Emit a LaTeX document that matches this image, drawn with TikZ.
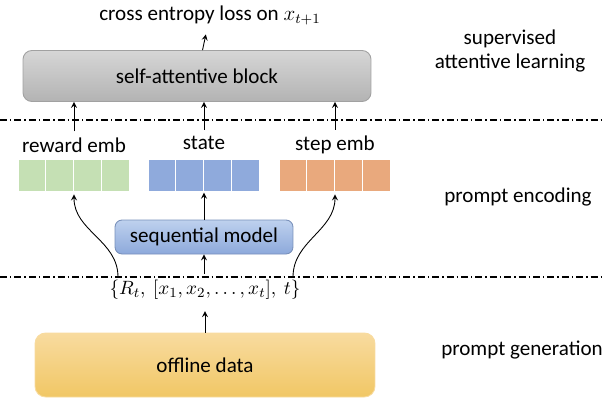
\documentclass[tikz,border=0pt]{standalone}
\usepackage{fontspec}
\setmainfont{Carlito}
\usetikzlibrary{positioning}
\definecolor{blockgrayA}{HTML}{D6D6D6}
\definecolor{blockgrayB}{HTML}{B3B3B3}
\definecolor{seqblueA}{HTML}{BED1EE}
\definecolor{seqblueB}{HTML}{8DA9DB}
\definecolor{offlineA}{HTML}{F8DB9F}
\definecolor{offlineB}{HTML}{F1C765}
\definecolor{embgreen}{HTML}{C5E0B4}
\definecolor{embblue}{HTML}{8FAADC}
\definecolor{emborange}{HTML}{E9A97D}
\begin{document}
\begin{tikzpicture}[x=0.02cm, y=-0.02cm, ->, >=stealth, line width=0.5pt,
  every node/.style={font=\fontsize{12}{14}\selectfont},
  block/.style={rounded corners=5pt, line width=0.5pt, inner sep=0pt},
  embrow/.style={minimum width=2.24cm, minimum height=0.66cm, inner sep=0pt, draw=white, line width=0.8pt},
  phase/.style={align=center, inner sep=1pt},
  sepline/.style={-, line width=0.6pt, dash pattern=on 4pt off 1.7pt on 0.8pt off 1.7pt}]
\useasboundingbox (0,0) rectangle (605,400);
% Nodos
\node (loss) at (210,15) {cross entropy loss on $x_{t+1}$};
\node [block, draw=blockgrayB!90!black, top color=blockgrayA, bottom color=blockgrayB, minimum width=6.96cm, minimum height=1.02cm] (attn) at (197,76) {self-attentive block};

\node (rewlab) at (74,145) {reward emb};
\node (statelab) at (204,143) {state};
\node (steplab) at (335,145) {step emb};

\node [embrow, fill=embgreen] (rew) at (74,175.5) {};
\node [embrow, fill=embblue] (state) at (204,175.5) {};
\node [embrow, fill=emborange] (step) at (335,175.5) {};

\node [block, rounded corners=4pt, draw=seqblueB!85!black, top color=seqblueA, bottom color=seqblueB, minimum width=3.56cm, minimum height=0.68cm] (seq) at (204,237) {sequential model};

\node [font=\fontsize{11}{13}\selectfont] (input) at (205,290) {$\{R_t,\ [x_1, x_2, \dots, x_t],\ t\}$};
\coordinate (rstart) at (118,277);
\coordinate (tstart) at (293,277);

\node [block, rounded corners=6pt, draw=offlineA, top color=offlineA, bottom color=offlineB, minimum width=6.8cm, minimum height=1.28cm] (offline) at (205,365) {offline data};

\node [phase] (phase1) at (510,51) {supervised\\attentive learning};
\node [phase] (phase2) at (518,197) {prompt encoding};
\node [phase] (phase3) at (522,350) {prompt generation};

% separadores de celdas
\foreach \cellrow in {rew,state,step}
  \foreach \i in {1,2,3}
    \draw [-, white, line width=0.8pt] ([xshift=\i*0.56cm]\cellrow.north west) -- ([xshift=\i*0.56cm]\cellrow.south west);

% lineas de fases
\draw [sepline] (0,120) -- (605,120);
\draw [sepline] (0,277) -- (605,277);

% Ejes
\path (attn) edge [shorten >=2pt] (loss);
\draw (rewlab.north -| rew) -- (rew |- attn.south);
\draw (statelab.north -| state) -- (state |- attn.south);
\draw (steplab.north -| step) -- (step |- attn.south);
\draw (seq) -- (state);
\draw (input.north -| seq) -- (seq);
\draw (rstart) to [out=90, in=-90] ([yshift=-1pt]rew.south);
\draw (tstart) to [out=90, in=-90] ([yshift=-1pt]step.south);
\draw [shorten >=3pt] (offline) -- (input);

\end{tikzpicture}
\end{document}
